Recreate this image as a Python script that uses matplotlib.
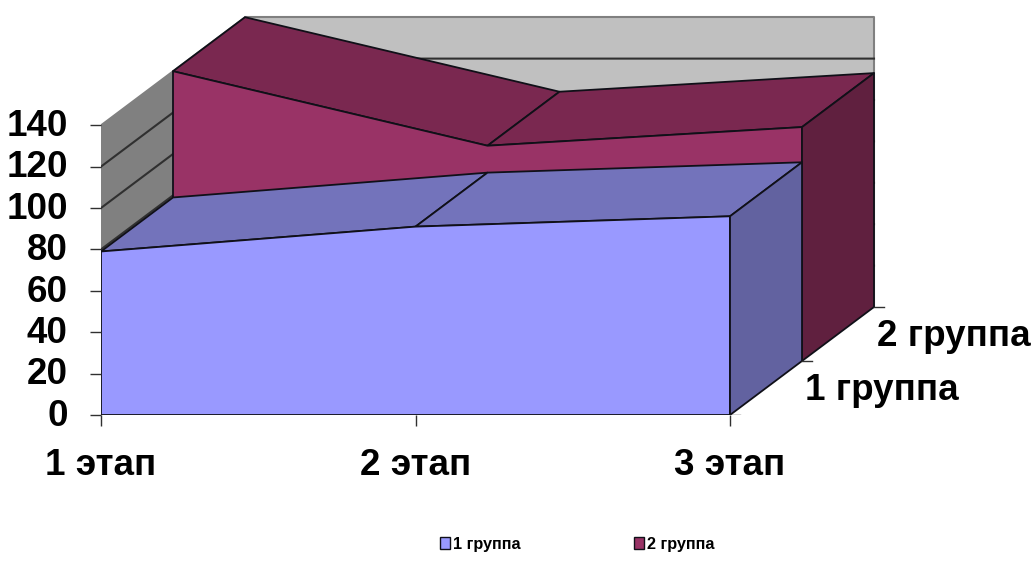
import matplotlib.pyplot as plt
from matplotlib.patches import Patch, Polygon
from matplotlib.transforms import ScaledTranslation

stages = ["1 этап", "2 этап", "3 этап"]
groups = ["1 группа", "2 группа"]
group1 = [79, 91, 96]
group2 = [140, 104, 113]
y_ticks = [0, 20, 40, 60, 80, 100, 120, 140]

PX_X = 314.5
PX_Y = 2.07
# one step along the depth axis, in stage and value units
DEPTH_X = 72 / PX_X
DEPTH_Y = 54 / PX_Y

FRONT = "#9999FF"
FRONT_TOP = "#7373BB"
FRONT_SIDE = "#6262A0"
BACK = "#993366"
BACK_TOP = "#7A2850"
BACK_SIDE = "#60203F"
EDGE = "#101018"

plt.rcParams["font.family"] = ["Liberation Sans", "DejaVu Sans"]
plt.rcParams["font.weight"] = "bold"


def project(stage, value, depth):
    return stage + depth * DEPTH_X, value + depth * DEPTH_Y


def face(ax, points, color, edge=EDGE, lw=1.3, zorder=1):
    ax.add_patch(Polygon(points, closed=True, facecolor=color, edgecolor=edge, linewidth=lw, joinstyle="round", zorder=zorder))


def draw_series(ax, values, depth, front, top, side):
    xs = range(len(values))
    near = [project(x, v, depth) for x, v in zip(xs, values)]
    far = [project(x, v, depth + 1) for x, v in zip(xs, values)]
    last = len(values) - 1

    for i in range(last):
        face(ax, [near[i], near[i + 1], far[i + 1], far[i]], top)
    face(ax, [project(0, 0, depth)] + near + [project(last, 0, depth)], front)
    face(ax, [near[last], far[last], project(last, 0, depth + 1), project(last, 0, depth)], side)


fig = plt.figure(figsize=(10.32, 5.79), dpi=100)
ax = fig.add_axes([101 / 1032, (579 - 415) / 579, (1032 - 101) / 1032, 415 / 579])
ax.set_xlim(0, (1032 - 101) / PX_X)
ax.set_ylim(0, 415 / PX_Y)
ax.patch.set_visible(False)
for spine in ax.spines.values():
    spine.set_visible(False)

# walls behind the series
top_value = y_ticks[-1]
face(ax, [project(0, 0, 0), project(0, top_value, 0), project(0, top_value, 2), project(0, 0, 2)], "#808080", "#808080", zorder=0.5)
face(ax, [project(0, 0, 2), project(0, top_value, 2), project(2, top_value, 2), project(2, 0, 2)], "#C0C0C0", "#808080", 1.5, zorder=0.5)
for tick in y_ticks[1:-1]:
    path = [project(0, tick, 0), project(0, tick, 2), project(2, tick, 2)]
    ax.plot(*zip(*path), color="#303030", lw=1.5, zorder=0.6)

draw_series(ax, group2, 1, BACK, BACK_TOP, BACK_SIDE)
draw_series(ax, group1, 0, FRONT, FRONT_TOP, FRONT_SIDE)

ax.set_xticks(range(len(stages)), stages)
ax.set_yticks(y_ticks)
ax.tick_params(axis="both", labelsize=26.5, length=8, width=1, color="#303030")
ax.tick_params(axis="x", pad=15.5)
ax.tick_params(axis="y", pad=16)
nudge = ScaledTranslation(0, 2 / 72, fig.dpi_scale_trans)
for label in ax.get_yticklabels():
    label.set_transform(label.get_transform() + nudge)

# depth axis ticks and labels
for depth in range(3):
    x, y = project(2, 0, depth)
    ax.plot([x, x + 10 / PX_X], [y, y], color="#303030", lw=1)
for depth, name in enumerate(groups):
    x, y = project(2, 0, depth)
    ax.text(x + 75 / PX_X, y + 25 / PX_Y, name, fontsize=26.5, va="center", ha="left")

handles = [
    Patch(facecolor=FRONT, edgecolor=EDGE, label=groups[0]),
    Patch(facecolor=BACK, edgecolor=EDGE, label=groups[1]),
]
fig.legend(
    handles=handles,
    loc="center",
    bbox_to_anchor=(577.5 / 1032, (579 - 544) / 579),
    ncol=2,
    frameon=False,
    fontsize=11.7,
    handlelength=0.6,
    handleheight=0.7,
    handletextpad=0.2,
    columnspacing=7.0,
)

fig.savefig("out.png", dpi=100)
